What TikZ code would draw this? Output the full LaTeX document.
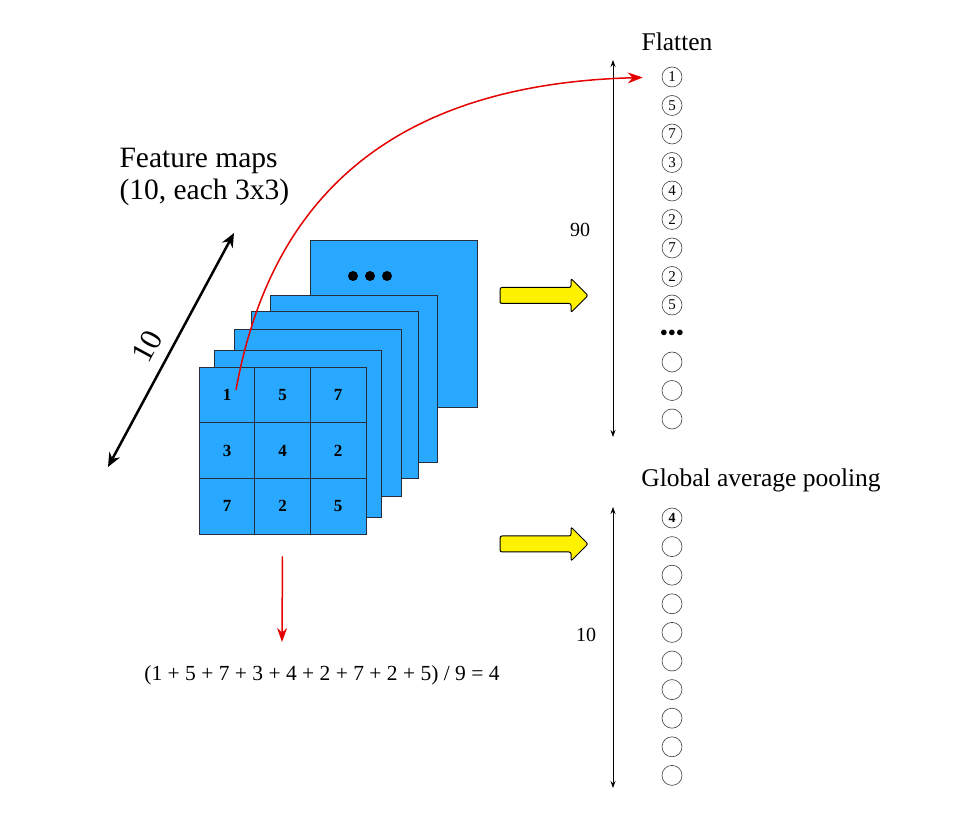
\documentclass[tikz,border=0pt]{standalone}
\usepackage{fontspec}
\setmainfont{Liberation Serif}
\usepackage{amsmath}
\usetikzlibrary{arrows.meta,shapes.arrows,calc,positioning}
\definecolor{mapblue}{RGB}{41,168,255}
\definecolor{mapedge}{RGB}{40,45,60}
\definecolor{pickred}{RGB}{228,0,0}
\tikzset{fmap/.style={draw=mapedge, fill=mapblue, line width=0.9pt, minimum size=167pt, inner sep=0pt}}
\tikzset{cell/.style={fmap, minimum size=55.6pt, font=\fontsize{17}{17}\selectfont\bfseries}}
\tikzset{unit/.style={draw=black!75, circle, line width=0.6pt, minimum size=20pt, inner sep=0pt, node distance=28.5pt, font=\fontsize{15}{15}\selectfont}}
\tikzset{gapunit/.style={unit, node distance=28.6pt}}
\tikzset{bigarrow/.style={single arrow, draw=black, line width=1pt, fill=yellow, minimum height=88pt, inner xsep=0pt, inner ysep=7.5pt, single arrow head extend=9pt, single arrow head indent=0pt, rounded corners=2pt}}
\tikzstyle{lbl}=[font=\fontsize{25.5}{25.5}\selectfont]
\tikzstyle{cnt}=[font=\fontsize{20}{20}\selectfont]

\begin{document}
\begin{tikzpicture}[x=1pt, y=1pt, >=Stealth, node distance=55.6pt]
\useasboundingbox (0,0) rectangle (980,817);
% stack of maps, back to front
\node[fmap] (map10) at (394,493.5) {};
\fill (353,541) circle (5) (370,541) circle (5) (387,541) circle (5);
\node[fmap] (map5) at (353.5,438) {};
\node[fmap] (map4) at (334.5,422.5) {};
\node[fmap] (map3) at (318,404.5) {};
\node[fmap] (map2) at (297.5,383) {};
% front map
\node[cell] (c11) at (227,422) {1};
\node[cell][right of=c11] (c12) {5};
\node[cell][right of=c12] (c13) {7};
\node[cell][below of=c11] (c21) {3};
\node[cell][right of=c21] (c22) {4};
\node[cell][right of=c22] (c23) {2};
\node[cell][below of=c21] (c31) {7};
\node[cell][right of=c31] (c32) {2};
\node[cell][right of=c32] (c33) {5};
\node[align=left, anchor=west, font=\fontsize{29.5}{32}\selectfont] (title) at (116,640) {Feature maps\\(10, each 3x3)};
\coordinate (depthlo) at (108,350);
\coordinate (depthhi) at (234,584);
\draw[{Stealth[length=14pt,width=12pt]}-{Stealth[length=14pt,width=12pt]}, line width=2.5pt] (depthlo) -- node[sloped, above=10pt, pos=0.47, inner sep=1pt, font=\fontsize{31}{31}\selectfont] (depthnum) {10} (depthhi);
% flatten
\node[lbl] (flatlbl) at (677,775) {Flatten};
\node[unit] (f1) at (672,740) {1};
\node[unit][below of=f1] (f2) {5};
\node[unit][below of=f2] (f3) {7};
\node[unit][below of=f3] (f4) {3};
\node[unit][below of=f4] (f5) {4};
\node[unit][below of=f5] (f6) {2};
\node[unit][below of=f6] (f7) {7};
\node[unit][below of=f7] (f8) {2};
\node[unit][below of=f8] (f9) {5};
\node[unit, draw=none, font=\fontsize{14}{14}\selectfont][below of=f9] (fdots) {$\bullet\!\bullet\!\bullet$};
\node[unit][below of=fdots] (f11) {};
\node[unit][below of=f11] (f12) {};
\node[unit][below of=f12] (f13) {};
\coordinate (flattop) at (613,757);
\coordinate (flatbot) at (613,380);
\draw[{Stealth[length=7pt,width=5pt]}-{Stealth[length=7pt,width=5pt]}, line width=0.8pt] (flatbot) -- (flattop);
\node[cnt] (flatcount) at (580,587) {90};
% global average pooling
\node[lbl] (gaplbl) at (761,337) {Global average pooling};
\node[gapunit, font=\fontsize{14}{14}\selectfont\bfseries] (g1) at (672,299) {4};
\node[gapunit][below of=g1] (g2) {};
\node[gapunit][below of=g2] (g3) {};
\node[gapunit][below of=g3] (g4) {};
\node[gapunit][below of=g4] (g5) {};
\node[gapunit][below of=g5] (g6) {};
\node[gapunit][below of=g6] (g7) {};
\node[gapunit][below of=g7] (g8) {};
\node[gapunit][below of=g8] (g9) {};
\node[gapunit][below of=g9] (g10) {};
\coordinate (gaptop) at (613,310);
\coordinate (gapbot) at (613,29);
\draw[{Stealth[length=7pt,width=5pt]}-{Stealth[length=7pt,width=5pt]}, line width=0.8pt] (gapbot) -- (gaptop);
\node[cnt] (gapcount) at (586,182) {10};
% yellow arrows
\node[bigarrow] (toflat) at (540,521.5) {};
\node[bigarrow] (togap) at (540,273) {};
% red arrows
\coordinate (pick) at ($(c11)+(9,5)$);
\draw[pickred, line width=1.5pt, -{Stealth[length=15pt,width=11pt]}, shorten >=19pt] (pick) .. controls +(29,160) and +(-302,-8) .. (f1.west);
\coordinate (avgtip) at (282,175);
\draw[pickred, line width=1.5pt, -{Stealth[length=14pt,width=10pt]}, shorten <=22pt] (c32.south) -- (avgtip);
\node[font=\fontsize{21.5}{21.5}\selectfont] (avg) at (322,142) {(1 + 5 + 7 + 3 + 4 + 2 + 7 + 2 + 5) / 9 = 4};
\end{tikzpicture}
\end{document}
